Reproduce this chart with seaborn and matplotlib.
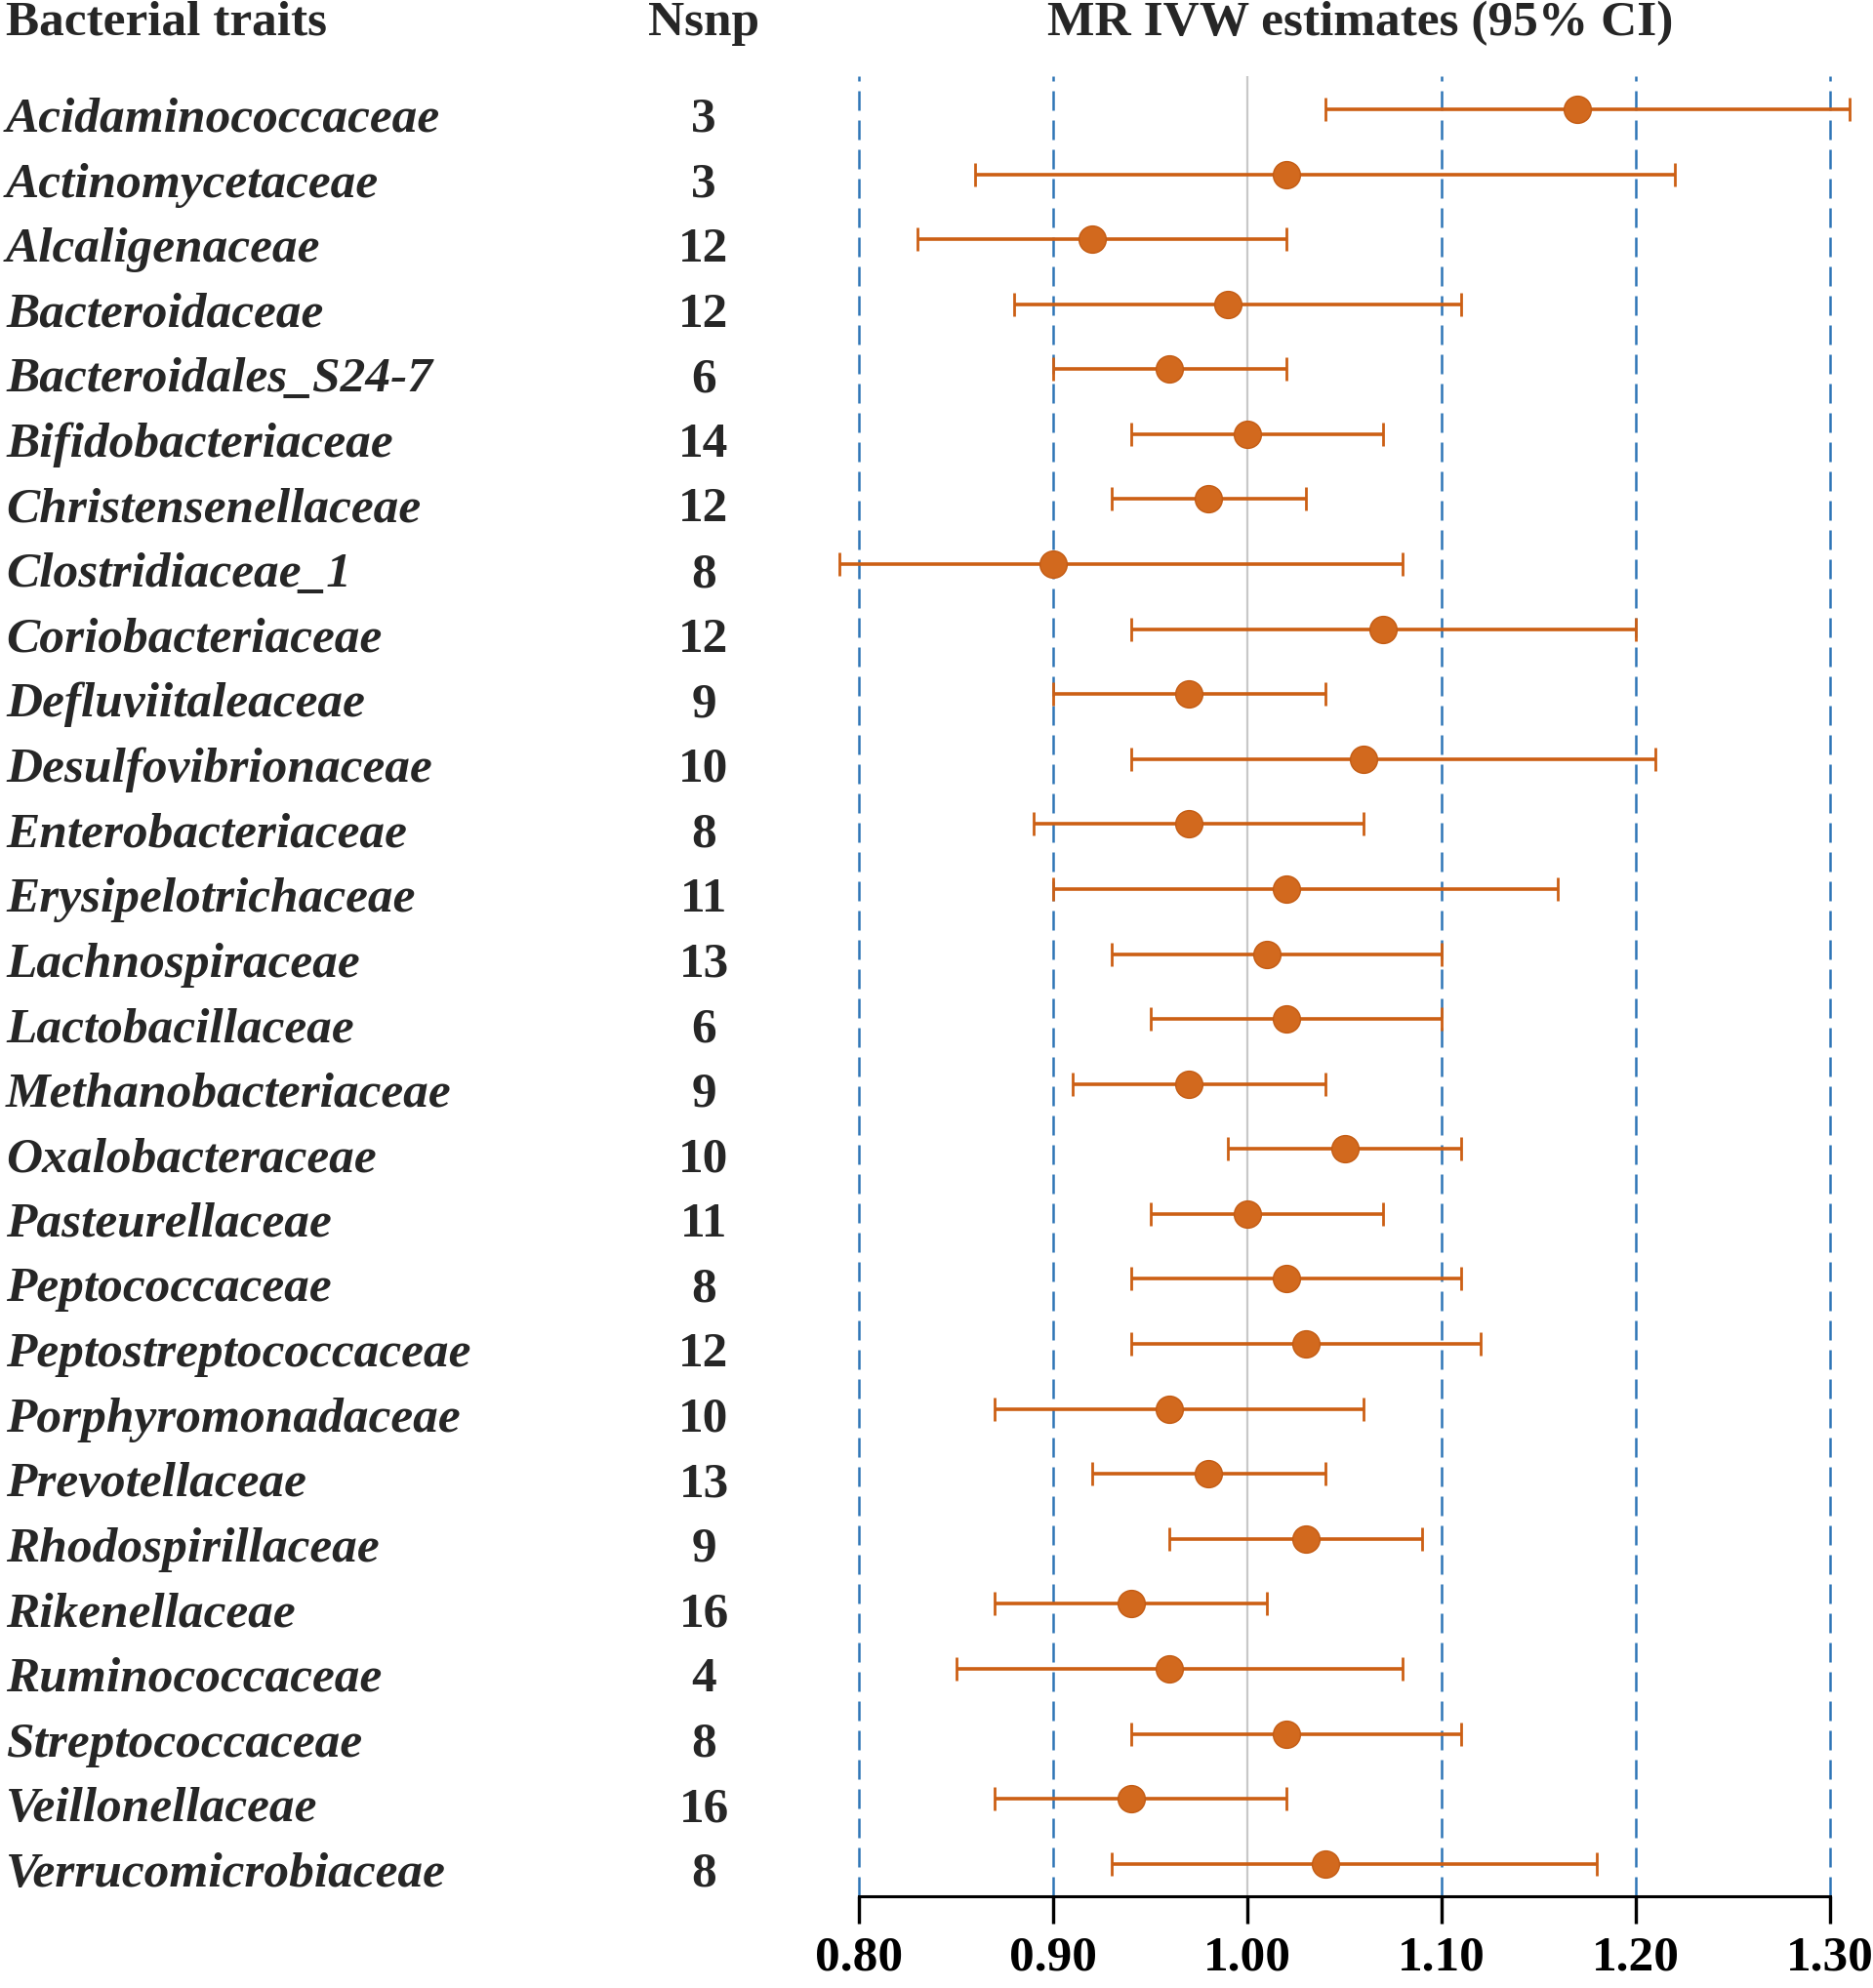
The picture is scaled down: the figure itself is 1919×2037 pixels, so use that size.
import matplotlib
matplotlib.use("Agg")
import matplotlib.pyplot as plt
import matplotlib.transforms as mtransforms
import seaborn as sns
import pandas as pd

# data
traits = ["Acidaminococcaceae", "Actinomycetaceae", "Alcaligenaceae", "Bacteroidaceae",
          "Bacteroidales_S24-7", "Bifidobacteriaceae", "Christensenellaceae", "Clostridiaceae_1",
          "Coriobacteriaceae", "Defluviitaleaceae", "Desulfovibrionaceae", "Enterobacteriaceae",
          "Erysipelotrichaceae", "Lachnospiraceae", "Lactobacillaceae", "Methanobacteriaceae",
          "Oxalobacteraceae", "Pasteurellaceae", "Peptococcaceae", "Peptostreptococcaceae",
          "Porphyromonadaceae", "Prevotellaceae", "Rhodospirillaceae", "Rikenellaceae",
          "Ruminococcaceae", "Streptococcaceae", "Veillonellaceae", "Verrucomicrobiaceae"]
nsnp = [3, 3, 12, 12, 6, 14, 12, 8, 12, 9, 10, 8, 11, 13, 6, 9, 10, 11, 8, 12, 10, 13, 9, 16, 4, 8, 16, 8]
estimate = [1.17, 1.02, 0.92, 0.99, 0.96, 1.00, 0.98, 0.90, 1.07, 0.97, 1.06, 0.97, 1.02, 1.01,
            1.02, 0.97, 1.05, 1.00, 1.02, 1.03, 0.96, 0.98, 1.03, 0.94, 0.96, 1.02, 0.94, 1.04]
ci_low = [1.04, 0.86, 0.83, 0.88, 0.90, 0.94, 0.93, 0.79, 0.94, 0.90, 0.94, 0.89, 0.90, 0.93,
          0.95, 0.91, 0.99, 0.95, 0.94, 0.94, 0.87, 0.92, 0.96, 0.87, 0.85, 0.94, 0.87, 0.93]
ci_high = [1.31, 1.22, 1.02, 1.11, 1.02, 1.07, 1.03, 1.08, 1.20, 1.04, 1.21, 1.06, 1.16, 1.10,
           1.10, 1.04, 1.11, 1.07, 1.11, 1.12, 1.06, 1.04, 1.09, 1.01, 1.08, 1.11, 1.02, 1.18]
ticks = [0.80, 0.90, 1.00, 1.10, 1.20, 1.30]

df = pd.DataFrame({"trait": traits, "nsnp": nsnp, "est": estimate, "lo": ci_low, "hi": ci_high})
df["row"] = range(len(df))

sns.set_theme(style="white")
plt.rcParams["font.family"] = ["Liberation Serif", "DejaVu Serif"]

W, H = 1919, 2037
fig = plt.figure(figsize=(W / 100, H / 100), dpi=100)
ax_h = 1943 - 78
ax = fig.add_axes([840 / W, (H - 1943) / H, 1079 / W, ax_h / H])

orange = "#D2691E"
bar_col = "#CC5F14"
blue = "#2E75B6"
fs = 37

for t in ticks:
    if abs(t - 1.0) < 1e-9:
        ax.axvline(t, color="#C8C8C8", lw=1.6, zorder=1)
    else:
        ax.axvline(t, color=blue, lw=1.8, ls=(0, (8, 4)), zorder=1)

ax.errorbar(df["est"], df["row"], xerr=[df["est"] - df["lo"], df["hi"] - df["est"]],
            fmt="none", ecolor=bar_col, elinewidth=2.6, capsize=8.3, capthick=2.0, zorder=2)
sns.scatterplot(data=df, x="est", y="row", ax=ax, color=orange, s=400,
                edgecolor="#C45C14", linewidth=1, zorder=3, legend=False)

n = len(df)
ax.set_ylim(n - 0.5, -0.51)
ax.set_xlim(0.8 - 40 / 1990, 1.3 + 44 / 1990)
ax.set_xticks(ticks)
ax.set_xticklabels([f"{t:.2f}" for t in ticks], fontsize=fs, fontweight="bold")
ax.set_yticks([])
ax.set_xlabel("")
ax.set_ylabel("")
for s in ["top", "right", "left"]:
    ax.spines[s].set_visible(False)
ax.spines["bottom"].set_color("black")
ax.spines["bottom"].set_linewidth(2.2)
ax.spines["bottom"].set_bounds(0.8, 1.3)
ax.tick_params(axis="x", bottom=True, direction="out", length=19.5, width=2.2,
               color="black", labelcolor="black", pad=10)

# tick marks below the axis line
xtr = mtransforms.blended_transform_factory(ax.transData, ax.transAxes)
for t in ticks:
    ax.plot([t, t], [-28 / ax_h, 0], transform=xtr, color="black", lw=2.4,
            solid_capstyle="butt", clip_on=False, zorder=10)

# left-hand columns
tr = mtransforms.blended_transform_factory(fig.transFigure, ax.transData)
for _, r in df.iterrows():
    ax.text(6 / W, r["row"] + 0.345, r["trait"], transform=tr, ha="left", va="baseline",
            fontsize=fs, fontweight="bold", fontstyle="italic", clip_on=False)
    ax.text(721 / W, r["row"] + 0.345, str(r["nsnp"]), transform=tr, ha="center",
            va="baseline", fontsize=fs, fontweight="bold", clip_on=False)

hy = 1 - 36 / H
fig.text(6 / W, hy, "Bacterial traits", ha="left", va="baseline", fontsize=fs, fontweight="bold")
fig.text(721 / W, hy, "Nsnp", ha="center", va="baseline", fontsize=fs, fontweight="bold")
fig.text(1394 / W, hy, "MR IVW estimates (95% CI)", ha="center", va="baseline",
         fontsize=fs, fontweight="bold")

fig.savefig("out.png", dpi=100)
